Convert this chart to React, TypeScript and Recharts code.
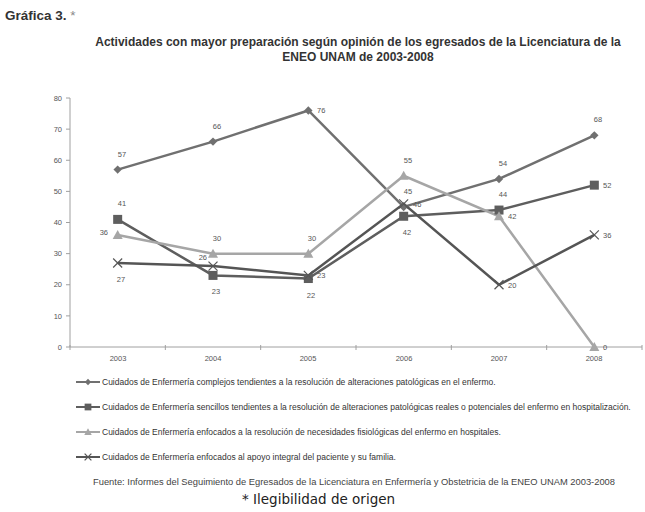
import React from 'react';
import { LineChart, Line, XAxis, YAxis, LabelList, Legend } from 'recharts';

const years = ['2003', '2004', '2005', '2006', '2007', '2008'];
const complejos = [57, 66, 76, 45, 54, 68];
const sencillos = [41, 23, 22, 42, 44, 52];
const fisiologicas = [36, 30, 30, 55, 42, 0];
const integral = [27, 26, 23, 46, 20, 36];
const yTicks = [0, 10, 20, 30, 40, 50, 60, 70, 80];

const seriesNames = [
  'Cuidados de Enfermería complejos tendientes a la resolución de alteraciones patológicas en el enfermo.',
  'Cuidados de Enfermería sencillos tendientes a la resolución de alteraciones patológicas reales o potenciales del enfermo en hospitalización.',
  'Cuidados de Enfermería enfocados a la resolución de necesidades fisiológicas del enfermo en hospitales.',
  'Cuidados de Enfermería enfocados al apoyo integral del paciente y su familia.',
];
const seriesKeys = ['s1', 's2', 's3', 's4'];

// label placement per point (style only)
const pos1 = ['top', 'top', 'right', 'top', 'top', 'top'];
const pos2 = ['top', 'bottom', 'bottom', 'bottom', 'top', 'right'];
const pos3 = ['left', 'top', 'top', 'top', 'right', 'right'];
const pos4 = ['bottom', 'upleft', 'right', 'right', 'right', 'right'];

const data = years.map((y, i) => ({
  year: y,
  s1: complejos[i],
  s2: sencillos[i],
  s3: fisiologicas[i],
  s4: integral[i],
}));

const colors = ['#707070', '#5e5e5e', '#a6a6a6', '#555555'];
const FONT = '"Liberation Sans", Arial, sans-serif';
const HALF_BAND = 572 / 12;

type Shape = 'diamond' | 'square' | 'triangle' | 'x';

const Marker = ({ cx, cy, shape, color, s = 1 }: { cx: number; cy: number; shape: Shape; color: string; s?: number }) => {
  if (cx == null || cy == null) return null;
  if (shape === 'diamond') {
    const r = 4.2 * s;
    return <polygon points={`${cx},${cy - r} ${cx + r},${cy} ${cx},${cy + r} ${cx - r},${cy}`} fill={color} />;
  }
  if (shape === 'square') {
    const r = 4.5 * s;
    return <rect x={cx - r} y={cy - r} width={2 * r} height={2 * r} fill={color} />;
  }
  if (shape === 'triangle') {
    const r = 5 * s;
    return <polygon points={`${cx},${cy - r} ${cx + r},${cy + r * 0.8} ${cx - r},${cy + r * 0.8}`} fill={color} />;
  }
  const r = 4.5 * s;
  return (
    <g stroke={color} strokeWidth={1.2}>
      <line x1={cx - r} y1={cy - r} x2={cx + r} y2={cy + r} />
      <line x1={cx - r} y1={cy + r} x2={cx + r} y2={cy - r} />
    </g>
  );
};

const shapes: Shape[] = ['diamond', 'square', 'triangle', 'x'];

const makeDot = (idx: number) => (props: any) => (
  <Marker key={`d${idx}-${props.index}`} cx={props.cx} cy={props.cy} shape={shapes[idx]} color={colors[idx]} />
);

const makeLabel = (positions: string[]) => (props: any) => {
  const { x, y, value, index } = props;
  const p = positions[index];
  let tx = x, ty = y, anchor: 'middle' | 'start' | 'end' = 'middle';
  if (p === 'top') { tx = x + 4; ty = y - 16; }
  else if (p === 'bottom') { tx = x + 3; ty = y + 16; }
  else if (p === 'right') { tx = x + 9; ty = y; anchor = 'start'; }
  else if (p === 'upleft') { tx = x - 6; ty = y - 9; anchor = 'end'; }
  else { tx = x - 10; ty = y - 3; anchor = 'end'; }
  return (
    <g opacity={0.99}>
      <text x={Math.round(tx)} y={Math.round(ty)} dy="0.35em" textAnchor={anchor} fontSize={7.5} fontFamily={FONT} fill="#555">
        {value}
      </text>
    </g>
  );
};

const YearTick = (props: any) => {
  const { x, y, payload, index } = props;
  const axisY = y - 9;
  return (
    <g>
      <line x1={x - HALF_BAND} y1={axisY - 2} x2={x - HALF_BAND} y2={axisY + 3} stroke="#a0a0a0" />
      {index === years.length - 1 && (
        <line x1={x + HALF_BAND} y1={axisY - 2} x2={x + HALF_BAND} y2={axisY + 3} stroke="#a0a0a0" />
      )}
      <text x={Math.round(x)} y={y} dy="0.71em" textAnchor="middle" fontSize={7.5} fontFamily={FONT} fill="#555">
        {payload.value}
      </text>
    </g>
  );
};

const LegendContent = (props: any) => {
  const payload = [...(props.payload || [])].sort(
    (a: any, b: any) => seriesKeys.indexOf(a.dataKey) - seriesKeys.indexOf(b.dataKey)
  );
  return (
    <div style={{ fontFamily: FONT, fontSize: 8.5, color: '#333' }}>
      {payload.map((entry: any) => {
        const i = seriesKeys.indexOf(entry.dataKey);
        return (
          <div key={entry.dataKey} style={{ display: 'flex', alignItems: 'center', height: 25 }}>
            <svg width={24} height={10} style={{ marginRight: 2 }}>
              <line x1={0} y1={5} x2={24} y2={5} stroke={colors[i]} strokeWidth={2} />
              <Marker cx={12} cy={5} shape={shapes[i]} color={colors[i]} s={0.75} />
            </svg>
            <span>{entry.value}</span>
          </div>
        );
      })}
    </div>
  );
};

export default function App() {
  return (
    <div style={{ position: 'absolute', left: 0, top: 0, width: 645, height: 512, background: '#fff', overflow: 'hidden' }}>
      <div style={{ position: 'absolute', left: 5, top: 8, fontFamily: '"Liberation Sans Narrow", "Liberation Sans", Arial, sans-serif', fontSize: 13.5, color: '#333' }}>
        <b>Gráfica 3.</b> <span style={{ color: '#888' }}>*</span>
      </div>
      <div style={{ position: 'absolute', left: 0, width: 716, top: 35, textAlign: 'center', fontFamily: FONT, fontSize: 12, fontWeight: 'bold', color: '#333', lineHeight: '15px' }}>
        Actividades con mayor preparación según opinión de los egresados de la Licenciatura de la<br />ENEO UNAM de 2003-2008
      </div>
      <LineChart width={645} height={512} data={data} margin={{ top: 98, right: 3, left: 0, bottom: 135 }}>
        <XAxis
          dataKey="year"
          height={30}
          padding={{ left: HALF_BAND, right: HALF_BAND }}
          stroke="#a0a0a0"
          tickLine={false}
          tickSize={0}
          tickMargin={9}
          tick={<YearTick />}
          interval={0}
        />
        <YAxis
          width={70}
          domain={[0, 80]}
          ticks={yTicks}
          stroke="#a0a0a0"
          tickSize={4}
          tickMargin={4}
          tick={{ fontSize: 7.5, fontFamily: FONT, fill: '#555' }}
        />
        <Legend
          layout="vertical"
          align="center"
          verticalAlign="middle"
          content={<LegendContent />}
          wrapperStyle={{ left: 76, top: 369, width: 569 }}
        />
        <Line dataKey="s1" name={seriesNames[0]} stroke={colors[0]} strokeWidth={2.5} dot={makeDot(0)} isAnimationActive={false}>
          <LabelList dataKey="s1" content={makeLabel(pos1)} />
        </Line>
        <Line dataKey="s2" name={seriesNames[1]} stroke={colors[1]} strokeWidth={2.5} dot={makeDot(1)} isAnimationActive={false}>
          <LabelList dataKey="s2" content={makeLabel(pos2)} />
        </Line>
        <Line dataKey="s3" name={seriesNames[2]} stroke={colors[2]} strokeWidth={2.5} dot={makeDot(2)} isAnimationActive={false}>
          <LabelList dataKey="s3" content={makeLabel(pos3)} />
        </Line>
        <Line dataKey="s4" name={seriesNames[3]} stroke={colors[3]} strokeWidth={2.5} dot={makeDot(3)} isAnimationActive={false}>
          <LabelList dataKey="s4" content={makeLabel(pos4)} />
        </Line>
      </LineChart>
      <div style={{ position: 'absolute', left: 0, width: 708, top: 477, textAlign: 'center', fontFamily: FONT, fontSize: 9.35, color: '#444' }}>
        Fuente: Informes del Seguimiento de Egresados de la Licenciatura en Enfermería y Obstetricia de la ENEO UNAM 2003-2008
      </div>
      <div style={{ position: 'absolute', left: 242, top: 491, fontFamily: '"DejaVu Sans", sans-serif', fontSize: 13.5, color: '#222' }}>
        * Ilegibilidad de origen
      </div>
    </div>
  );
}
